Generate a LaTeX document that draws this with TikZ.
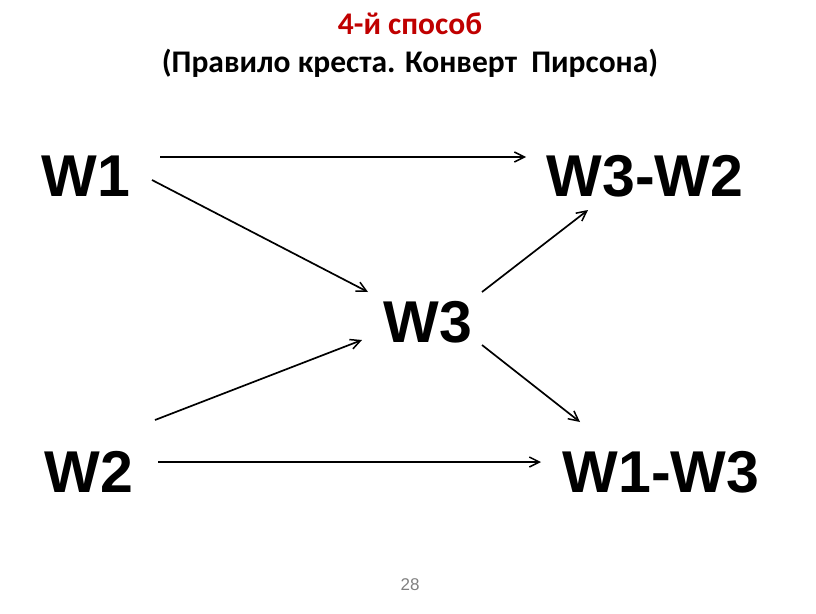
\documentclass[tikz,border=0pt]{standalone}
\usepackage{fontspec}
\setmainfont{Liberation Sans}
\newfontfamily\titlefont{Carlito}
\usetikzlibrary{arrows.meta}
\definecolor{titlered}{RGB}{192,0,0}
\tikzset{
  lbl/.style={font=\fontsize{59}{59}\selectfont\bfseries, inner sep=0pt, anchor=base},
  arr/.style={line width=1.7pt, -{Straight Barb[length=10pt,width=10pt,line width=1.5pt]}},
  ttl/.style={font=\titlefont\fontsize{31.5}{31.5}\selectfont\bfseries, inner sep=0pt, anchor=base}
}
\begin{document}
\begin{tikzpicture}[x=1pt,y=-1pt]
\useasboundingbox (0,0) rectangle (816,613);
\node[ttl, text=titlered] (t1) at (410,34) {4-й способ};
\node[ttl] (t2) at (410,72) {(Правило креста. Конверт\ \ Пирсона)};
\node[lbl] (w1) at (86,196) {W1};
\node[lbl] (w32) at (645,196) {W3-W2};
\node[lbl] (w3) at (428,342) {W3};
\node[lbl] (w2) at (89,492) {W2};
\node[lbl] (w13) at (661,492) {W1-W3};
\node[font=\fontsize{17}{17}\selectfont, text=gray, inner sep=0pt, anchor=base] (pg) at (410,590) {28};
\coordinate (a1s) at (160,157); \coordinate (a1e) at (526,157);
\coordinate (a2s) at (152,180); \coordinate (a2e) at (368,292);
\coordinate (a3s) at (155,420); \coordinate (a3e) at (362,340);
\coordinate (a4s) at (482,292); \coordinate (a4e) at (588,210);
\coordinate (a5s) at (482,345); \coordinate (a5e) at (580,422);
\coordinate (a6s) at (158,462); \coordinate (a6e) at (541,462);
\draw[arr] (a1s) -- (a1e);
\draw[arr] (a2s) -- (a2e);
\draw[arr] (a3s) -- (a3e);
\draw[arr] (a4s) -- (a4e);
\draw[arr] (a5s) -- (a5e);
\draw[arr] (a6s) -- (a6e);
\end{tikzpicture}
\end{document}
